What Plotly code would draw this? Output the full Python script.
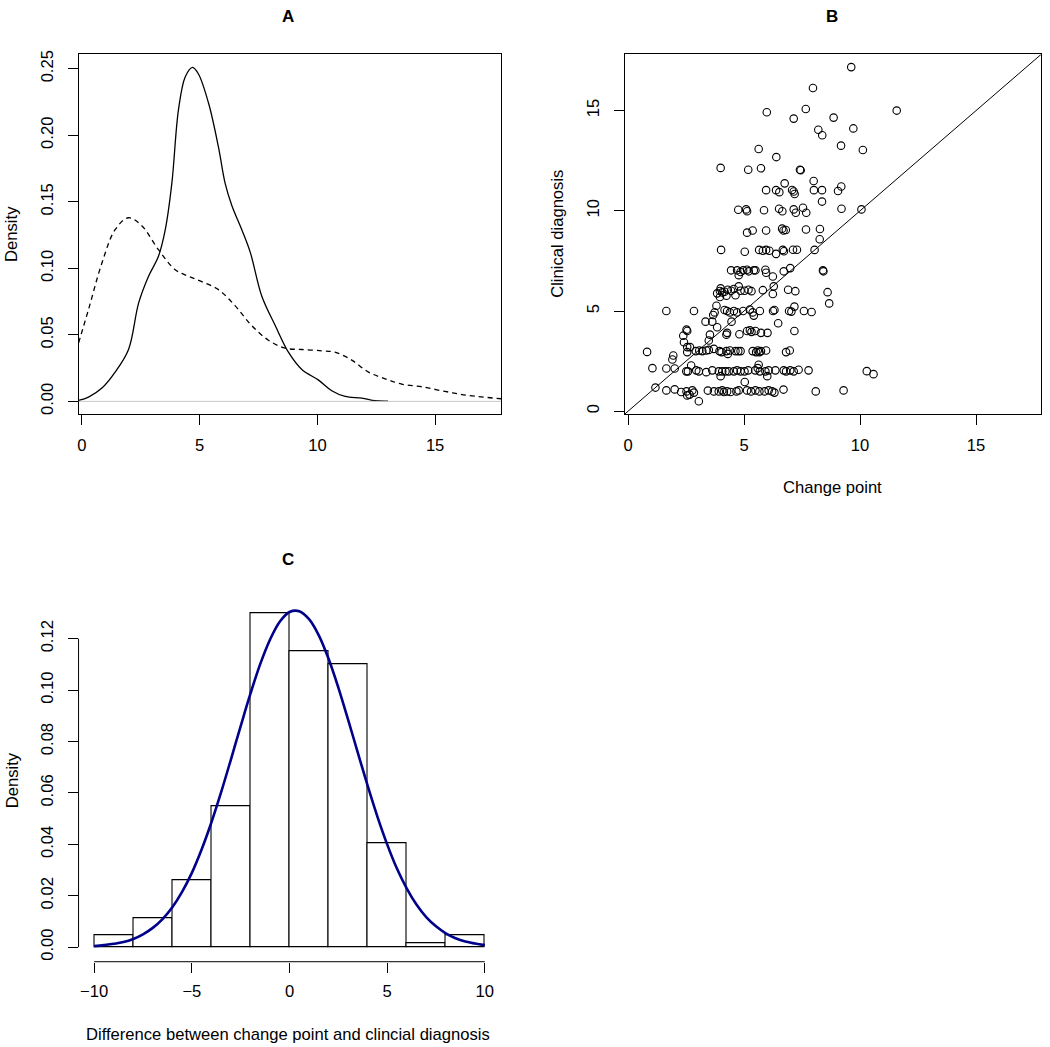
import plotly.graph_objects as go

W, H = 1050, 1047
FONT = "Liberation Sans, Arial, sans-serif"

# ---- panel A: density curves ----
a_solid_x = [-0.14, 0.28, 0.85, 1.41, 1.98, 2.41, 2.83, 3.25, 3.54, 3.82, 4.10, 4.39, 4.70,
             4.95, 5.38, 5.80, 6.08, 6.37, 6.79, 7.15, 7.64, 8.21, 8.77, 9.34, 10.05, 10.61,
             11.18, 11.89, 12.45, 13.0]
a_solid_y = [0.0007, 0.0032, 0.010, 0.022, 0.039, 0.074, 0.094, 0.109, 0.129, 0.164, 0.219,
             0.244, 0.251, 0.246, 0.224, 0.191, 0.164, 0.147, 0.129, 0.112, 0.079, 0.057,
             0.037, 0.024, 0.016, 0.008, 0.0037, 0.0025, 0.0005, 0.0002]
a_dash_x = [-0.14, 0.28, 0.85, 1.41, 1.98, 2.54, 3.25, 3.96, 4.53, 5.09, 5.80, 6.50, 7.21,
            7.92, 8.63, 9.34, 10.19, 10.75, 11.46, 12.17, 12.88, 13.58, 14.43, 15.42, 16.41, 17.8]
a_dash_y = [0.044, 0.069, 0.104, 0.129, 0.138, 0.132, 0.114, 0.099, 0.094, 0.090, 0.084,
            0.072, 0.057, 0.046, 0.040, 0.039, 0.038, 0.037, 0.031, 0.022, 0.017, 0.013,
            0.011, 0.0075, 0.0045, 0.002]

# ---- panel B: change point vs clinical diagnosis ----
change_point = [
    9.62, 7.97, 5.98, 7.66, 7.14, 11.58, 8.86, 8.20, 8.37, 9.71, 9.18, 10.12, 5.63, 6.39,
    3.99, 5.18, 5.73, 7.41, 7.44, 8.00, 6.75, 5.95, 6.38, 6.52, 7.07, 7.14, 7.18, 8.01, 8.36,
    9.05, 9.19, 8.36,
    4.75, 5.09, 5.13, 5.86, 6.51, 6.65, 7.14, 7.23, 7.54, 7.68, 9.20, 10.06,
    5.13, 5.37, 5.95, 6.64, 6.70, 6.80, 7.67, 8.27, 8.26,
    4.01, 5.03, 5.65, 5.81, 5.95, 6.09, 6.38, 6.67, 6.72, 7.11, 7.28, 8.04,
    4.44, 4.70, 4.85, 4.96, 5.13, 5.20, 5.42, 5.49, 5.92, 5.95, 6.24, 6.71, 6.99, 8.40, 8.42, 4.77,
    3.84, 3.99, 3.96, 4.06, 4.16, 4.30, 4.44, 4.56, 4.63, 4.77, 4.85, 5.02, 5.19, 5.32, 5.81,
    6.24, 6.28, 6.90, 7.21, 8.60, 8.67, 3.96, 4.24,
    1.65, 2.84, 3.81, 3.73, 3.67, 4.16, 4.27, 4.39, 4.56, 4.70, 4.96, 5.25, 5.37, 5.42, 5.68,
    6.25, 6.31, 6.94, 7.04, 7.17, 7.58, 7.91,
    3.34, 3.63, 4.46, 6.47, 3.84, 4.27, 4.24, 3.53, 3.48, 4.80,
    2.52, 2.55, 2.38, 2.41, 5.13, 5.25, 5.32, 5.49, 5.73, 6.01, 7.17,
    0.82, 2.55, 2.67, 2.55, 2.92, 3.07, 3.20, 3.37, 3.48, 3.70, 3.94, 4.03, 4.24, 4.30, 4.39,
    4.63, 4.75, 4.85, 5.37, 5.52, 5.59, 5.66, 5.73, 5.95, 6.81, 6.97, 1.95, 1.91,
    1.05, 1.65, 2.01, 2.51, 2.58, 2.72, 2.94, 3.05, 3.37, 3.63, 3.91, 3.99, 4.06, 4.20, 4.34,
    4.56, 4.70, 4.85, 5.02, 5.18, 5.48, 5.63, 5.59, 5.68, 5.92, 6.00, 6.06, 6.35, 6.71, 6.81,
    6.99, 7.14, 7.35, 7.78, 10.29, 10.58,
    1.18, 1.65, 2.01, 2.29, 2.52, 2.55, 2.65, 2.77, 2.84, 3.05, 3.44, 3.70, 3.91, 4.06, 4.13,
    4.27, 4.42, 4.67, 4.77, 5.03, 5.13, 5.30, 5.49, 5.66, 5.88, 6.06, 6.21, 6.31, 6.70, 8.09, 9.29,
]
clinical_dx = [
    17.17, 16.13, 14.92, 15.08, 14.60, 15.00, 14.65, 14.04, 13.77, 14.11, 13.25, 13.03, 13.08,
    12.68, 12.14, 12.05, 12.12, 12.05, 12.02, 11.49, 11.37, 11.03, 11.03, 10.93, 11.04, 10.96,
    10.84, 11.03, 11.03, 10.99, 11.21, 10.46,
    10.05, 10.07, 9.98, 10.03, 10.10, 9.98, 10.07, 9.90, 10.15, 9.90, 10.10, 10.07,
    8.91, 9.02, 9.02, 9.11, 9.02, 9.04, 9.07, 9.09, 8.58,
    8.05, 7.96, 8.05, 8.01, 8.05, 8.01, 7.85, 8.05, 7.98, 8.06, 8.06, 8.05,
    7.03, 7.03, 6.95, 7.03, 7.06, 6.98, 7.03, 7.03, 7.06, 6.91, 6.72, 6.98, 7.14, 7.03, 6.98, 6.79,
    5.88, 6.13, 6.00, 5.93, 5.96, 6.06, 6.01, 6.10, 5.79, 6.23, 6.01, 6.01, 6.06, 5.99, 6.04,
    5.85, 6.23, 6.06, 5.99, 5.94, 5.38, 5.70, 5.76,
    5.00, 5.00, 5.26, 4.93, 4.80, 5.05, 5.00, 4.93, 5.00, 4.93, 5.00, 5.07, 4.93, 4.77, 5.00,
    5.00, 5.05, 5.00, 4.97, 5.22, 5.00, 4.95,
    4.47, 4.47, 4.47, 4.39, 4.19, 3.91, 3.82, 3.82, 3.53, 3.84,
    4.07, 4.00, 3.77, 3.44, 4.00, 4.04, 3.96, 4.00, 3.91, 3.91, 4.00,
    2.96, 3.20, 3.20, 2.95, 3.00, 3.03, 3.00, 3.03, 3.06, 3.11, 3.00, 2.95, 3.00, 2.86, 3.03,
    3.00, 3.00, 3.00, 3.00, 2.95, 3.03, 2.95, 3.00, 3.03, 2.95, 3.03, 2.78, 2.58,
    2.15, 2.13, 2.13, 1.99, 1.99, 2.28, 2.04, 1.99, 1.95, 2.04, 1.99, 1.75, 1.99, 1.99, 1.99,
    1.99, 2.04, 1.99, 1.99, 2.04, 2.04, 2.32, 2.15, 1.99, 1.99, 1.75, 2.04, 2.04, 2.04, 1.99,
    2.04, 1.99, 2.07, 2.04, 2.00, 1.85,
    1.18, 1.04, 1.09, 0.96, 0.99, 0.79, 0.83, 1.04, 0.93, 0.50, 1.03, 0.99, 0.99, 1.04, 0.96,
    0.99, 0.96, 0.99, 1.04, 1.46, 1.04, 0.99, 1.04, 0.99, 0.99, 1.04, 0.99, 0.93, 1.08, 0.99, 1.04,
]

# ---- panel C: histogram of differences + fitted normal ----
bin_left = [-10, -8, -6, -4, -2, 0, 2, 4, 6, 8]
bin_density = [0.0046, 0.0112, 0.0259, 0.055, 0.1298, 0.1151, 0.1102, 0.0405, 0.0015, 0.0046]
curve_x = [-10, -9.5, -9, -8.5, -8, -7.5, -7, -6.5, -6, -5.5, -5, -4.5, -4, -3.5, -3, -2.5,
           -2, -1.5, -1, -0.5, 0, 0.5, 1, 1.5, 2, 2.5, 3, 3.5, 4, 4.5, 5, 5.5, 6, 6.5, 7,
           7.5, 8, 8.5, 9, 9.5, 10]
curve_y = [0.0004, 0.0008, 0.0013, 0.0020, 0.0032, 0.0050, 0.0075, 0.0109, 0.0155, 0.0215,
           0.0289, 0.0380, 0.0485, 0.0603, 0.0730, 0.0860, 0.0986, 0.1101, 0.1196, 0.1266,
           0.1304, 0.1307, 0.1276, 0.1213, 0.1122, 0.1010, 0.0885, 0.0756, 0.0628, 0.0508,
           0.0400, 0.0306, 0.0229, 0.0166, 0.0117, 0.0081, 0.0054, 0.0035, 0.0022, 0.0014,
           0.0008]

A_XRANGE = [-0.13, 17.8]
A_YRANGE = [-0.0095, 0.2607]
B_RANGE = [-0.14, 17.8]
C_XRANGE = [-10.8, 10.8]
C_YRANGE = [-0.00565, 0.135]


# page pixel -> paper fraction
def px(x):
    return x / W


def py(y):
    return 1 - y / H


fig = go.Figure()

fig.add_trace(go.Scatter(x=a_solid_x, y=a_solid_y, mode='lines', line_shape='spline',
                         line=dict(color='black', width=1.3), xaxis='x', yaxis='y'))
fig.add_trace(go.Scatter(x=a_dash_x, y=a_dash_y, mode='lines', line_shape='spline',
                         line=dict(color='black', width=1.3, dash='5px,4px'), xaxis='x', yaxis='y'))

fig.add_trace(go.Scatter(x=change_point, y=clinical_dx, mode='markers',
                         marker=dict(symbol='circle-open', size=7.5, color='black', line=dict(width=1.1)),
                         xaxis='x2', yaxis='y2'))

fig.add_trace(go.Bar(x=[b + 1 for b in bin_left], y=bin_density, width=2,
                     marker=dict(color='white', line=dict(color='black', width=1.1)),
                     xaxis='x3', yaxis='y3'))
fig.add_trace(go.Scatter(x=curve_x, y=curve_y, mode='lines', line_shape='spline',
                         line=dict(color='#00008B', width=2.6), xaxis='x3', yaxis='y3'))

tickfont = dict(family=FONT, size=16.6, color='black')
boxed = dict(showline=True, mirror=True, linecolor='black', linewidth=1, ticks='outside',
             ticklen=10, tickcolor='black', showgrid=False, zeroline=False, tickfont=tickfont)
open_ax = dict(showline=False, ticks='outside', ticklen=10, tickcolor='black',
               showgrid=False, zeroline=False, tickfont=tickfont)

fig.update_layout(
    width=W, height=H, margin=dict(l=0, r=0, t=0, b=0),
    paper_bgcolor='white', plot_bgcolor='white', showlegend=False,
    xaxis=dict(boxed, domain=[px(77), px(500)], range=A_XRANGE, anchor='y',
               tickvals=[0, 5, 10, 15], ticklabelstandoff=6),
    yaxis=dict(boxed, domain=[py(412), py(50.7)], range=A_YRANGE, anchor='x',
               tickvals=[0, 0.05, 0.10, 0.15, 0.20, 0.25], tickformat='.2f',
               tickangle=-90, ticklabelstandoff=8),
    xaxis2=dict(boxed, domain=[px(624), px(1041)], range=B_RANGE, anchor='y2',
                tickvals=[0, 5, 10, 15], ticklabelstandoff=6),
    yaxis2=dict(boxed, domain=[py(412), py(50.7)], range=B_RANGE, anchor='x2',
                tickvals=[0, 5, 10, 15], tickangle=-90, ticklabelstandoff=8),
    xaxis3=dict(open_ax, domain=[px(76.7), px(499.4)], range=C_XRANGE, anchor='y3',
                tickvals=[-10, -5, 0, 5, 10], ticklabelstandoff=4),
    yaxis3=dict(open_ax, domain=[py(962.3), py(599)], range=C_YRANGE, anchor='x3',
                tickvals=[0, 0.02, 0.04, 0.06, 0.08, 0.10, 0.12], tickformat='.2f',
                tickangle=-90, ticklabelstandoff=8),
    bargap=0,
)

shapes = [
    # grey zero line of the density plot
    dict(type='line', xref='x domain', yref='y', x0=0, x1=1, y0=0, y1=0,
         line=dict(color='#C8C8C8', width=1)),
    # identity line in B
    dict(type='line', xref='x2', yref='y2', x0=B_RANGE[0], y0=B_RANGE[0], x1=B_RANGE[1], y1=B_RANGE[1],
         line=dict(color='black', width=1)),
    # R-style detached axis lines for C
    dict(type='line', xref='x3', yref='y3 domain', x0=-10, x1=10, y0=0, y1=0,
         line=dict(color='black', width=1)),
    dict(type='line', xref='x3 domain', yref='y3', x0=0, x1=0, y0=0, y1=0.12,
         line=dict(color='black', width=1)),
]
fig.update_layout(shapes=shapes)

lab = dict(family=FONT, size=16.6, color='black')
ttl = dict(family=FONT, size=17, color='black')
ann = [
    dict(text='<b>A</b>', x=px(287), y=py(13), font=ttl),
    dict(text='<b>B</b>', x=px(832), y=py(13), font=ttl),
    dict(text='<b>C</b>', x=px(287), y=py(558), font=ttl),
    dict(text='Density', x=px(10), y=py(231), font=lab, textangle=-90),
    dict(text='Clinical diagnosis', x=px(557), y=py(231), font=lab, textangle=-90),
    dict(text='Change point', x=px(832), y=py(486), font=lab),
    dict(text='Density', x=px(10), y=py(780), font=lab, textangle=-90),
    dict(text='Difference between change point and clincial diagnosis', x=px(287), y=py(1035), font=lab),
]
for a in ann:
    a.update(xref='paper', yref='paper', showarrow=False, xanchor='center', yanchor='middle')
fig.update_layout(annotations=ann)

# drop the default 8px body margin so the figure sits at the page origin
fig.write_html("out.html", config={'displayModeBar': False},
               post_script="document.body.style.margin='0px';")
